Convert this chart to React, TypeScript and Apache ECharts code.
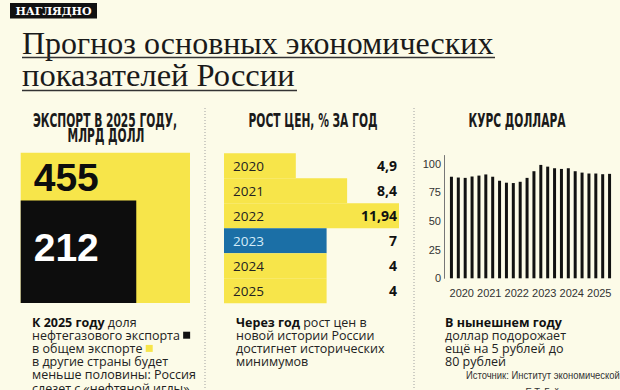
import React, { useEffect, useRef } from "react";
import * as echarts from "echarts";

// ---- data ----
const exportNames = ["Общий экспорт", "Нефтегазовый экспорт"];
const exportValues = [455, 212];

const priceYears = ["2020", "2021", "2022", "2023", "2024", "2025"];
const priceGrowth = [4.9, 8.4, 11.94, 7, 4, 4];
// bar lengths as drawn in the reference (forecast rows share the 2023 length)
const priceBarLength = [4.9, 8.4, 11.94, 7, 7, 7];
const highlightYear = "2023";

const dollarYears = ["2020", "2021", "2022", "2023", "2024", "2025"];
const quarterNames = ["I", "II", "III", "IV"];
const dollarQuarters = dollarYears.flatMap((y) => quarterNames.map((q) => `${q} кв. ${y}`));
const dollarRate = [
  88.5, 87.8, 87.5, 88.7, 89.5, 90.5, 88.5, 85, 83.3, 83, 84.1, 87.5,
  93.3, 98.8, 97.3, 95.9, 95.3, 95.9, 93.3, 92.1, 91.3, 91.3, 90.7, 91,
];

const captionExport = [
  "{b|К 2025 году} доля",
  "нефтегазового экспорта {k| }",
  "в общем экспорте {y| }",
  "в другие страны будет",
  "меньше половины: Россия",
  "слезет с «нефтяной иглы»",
];
const captionPrices = [
  "{b|Через год} рост цен в",
  "новой истории России",
  "достигнет исторических",
  "минимумов",
];
const captionDollar = ["{b|В нынешнем году}", "доллар подорожает", "ещё на 5 рублей до", "80 рублей"];
const sourceLines = ["Источник: Институт экономической", "политики им. Е.Т. Гайдара"];

// ---- styles ----
const BG = "#fcfbe8";
const YELLOW = "#f7e54a";
const BLUE = "#1b6fa6";
const INK = "#1a1a1a";
const COND = "'DejaVu Sans Condensed', 'DejaVu Sans', sans-serif";
const LIB = "'Liberation Sans', Arial, sans-serif";
const SANS = "'Open Sans', 'Noto Sans', sans-serif";
const SERIF = "'Liberation Serif', 'DejaVu Serif', serif";

const squareColors = [YELLOW, "#0d0d0d"];
const squareTextColors = ["#0d0d0d", "#ffffff"];
const squareLabelOffset = [25, 47];

const fmt = (v: number) => String(v).replace(".", ",");

export default function App() {
  const ref = useRef<HTMLDivElement>(null);

  useEffect(() => {
    if (!ref.current) return;
    const chart = echarts.init(ref.current, undefined, { renderer: "svg" });

    const heading = (text: string, x: number, y: number) => ({
      type: "text",
      x,
      y,
      scaleX: 0.625,
      style: {
        text,
        fill: INK,
        fontFamily: COND,
        fontWeight: "bold",
        fontSize: 19,
        align: "center",
        verticalAlign: "middle",
      },
    });

    const LH = 13;
    const captionRich = {
      b: { fontFamily: SANS, fontSize: 12.5, fontWeight: "bold", fill: "#111", lineHeight: LH },
      k: { width: 7, height: 7, backgroundColor: "#111", lineHeight: LH },
      y: { width: 7, height: 7, backgroundColor: YELLOW, lineHeight: LH },
    };

    const caption = (lines: string[], x: number, y0: number) =>
      lines.map((text, i) => ({
        type: "text",
        x,
        y: y0 + i * 13.2,
        style: {
          text,
          fill: "#222",
          fontFamily: SANS,
          fontSize: 12.5,
          lineHeight: LH,
          align: "left",
          verticalAlign: "middle",
          rich: captionRich,
        },
      }));

    const option: any = {
      animation: false,
      backgroundColor: BG,
      grid: [
        { left: 20.7, top: 152.7, width: 169.3, height: 150.3 },
        { left: 224, top: 153.3, width: 175, height: 150 },
        { left: 448, top: 155.5, width: 165, height: 122.8 },
      ],
      xAxis: [
        { gridIndex: 0, type: "value", min: 0, max: Math.sqrt(exportValues[0]), show: false },
        { gridIndex: 1, type: "value", min: 0, max: 11.94, show: false },
        { gridIndex: 2, type: "category", data: dollarQuarters, show: false },
        {
          gridIndex: 2,
          type: "category",
          data: dollarYears,
          position: "bottom",
          axisLine: { show: false },
          axisTick: { show: false },
          axisLabel: { interval: 0, margin: 9, fontSize: 11, color: "#333", fontFamily: LIB },
        },
      ],
      yAxis: [
        { gridIndex: 0, type: "value", min: 0, max: Math.sqrt(exportValues[0]), show: false },
        {
          gridIndex: 1,
          type: "category",
          inverse: true,
          z: 5,
          data: priceYears.map((y) =>
            y === highlightYear ? { value: y, textStyle: { color: "#d4ecf8" } } : y
          ),
          axisLine: { show: false },
          axisTick: { show: false },
          axisLabel: { inside: true, margin: 9, fontSize: 13.5, color: "#222", fontFamily: SANS },
        },
        {
          gridIndex: 1,
          type: "category",
          inverse: true,
          position: "right",
          z: 5,
          data: priceGrowth.map(fmt),
          axisLine: { show: false },
          axisTick: { show: false },
          axisLabel: {
            inside: true,
            margin: 2,
            fontSize: 14,
            fontWeight: "bold",
            color: "#111",
            fontFamily: SANS,
          },
        },
        {
          gridIndex: 2,
          type: "value",
          min: 0,
          max: 107,
          interval: 25,
          offset: 4,
          axisLine: { show: true, lineStyle: { color: "#777", width: 1 } },
          axisTick: { show: false },
          splitLine: { show: false },
          axisLabel: { margin: 3, fontSize: 11, color: "#333", fontFamily: LIB, showMaxLabel: false },
        },
      ],
      series: [
        {
          type: "custom",
          name: "Экспорт",
          xAxisIndex: 0,
          yAxisIndex: 0,
          data: exportValues.map((v, i) => ({ name: exportNames[i], value: [v, v] })),
          renderItem: (params: any, api: any) => {
            const v = api.value(0);
            const side = Math.sqrt(v);
            const p0 = api.coord([0, 0]);
            const p1 = api.coord([side, side]);
            const i = params.dataIndex;
            return {
              type: "group",
              children: [
                {
                  type: "rect",
                  shape: { x: p0[0], y: p1[1], width: p1[0] - p0[0], height: p0[1] - p1[1] },
                  style: { fill: squareColors[i] },
                },
                {
                  type: "text",
                  x: p0[0] + 13,
                  y: p1[1] + squareLabelOffset[i],
                  style: {
                    text: String(v),
                    fill: squareTextColors[i],
                    fontFamily: LIB,
                    fontWeight: "bold",
                    fontSize: 39,
                    align: "left",
                    verticalAlign: "middle",
                  },
                },
              ],
            };
          },
        },
        {
          type: "bar",
          name: "Рост цен",
          xAxisIndex: 1,
          yAxisIndex: 1,
          barCategoryGap: "0%",
          z: 2,
          data: priceBarLength.map((v, i) => ({
            value: v,
            itemStyle: { color: priceYears[i] === highlightYear ? BLUE : YELLOW },
          })),
        },
        {
          type: "bar",
          name: "Курс доллара",
          xAxisIndex: 2,
          yAxisIndex: 3,
          barWidth: 3,
          itemStyle: { color: "#121212" },
          data: dollarRate,
        },
      ],
      graphic: [
        { type: "rect", shape: { x: 10, y: 3, width: 87, height: 15.5 }, style: { fill: "#111" } },
        {
          type: "text",
          x: 53.5,
          y: 11,
          style: {
            text: "НАГЛЯДНО",
            fill: "#fff",
            fontFamily: "'DejaVu Serif', serif",
            fontWeight: "bold",
            fontSize: 11,
            align: "center",
            verticalAlign: "middle",
          },
        },
        {
          type: "text",
          x: 22,
          y: 42.5,
          style: {
            text: "Прогноз основных экономических",
            fill: INK,
            fontFamily: SERIF,
            fontSize: 32,
            align: "left",
            verticalAlign: "middle",
          },
        },
        {
          type: "text",
          x: 22,
          y: 74.5,
          style: {
            text: "показателей России",
            fill: INK,
            fontFamily: SERIF,
            fontSize: 32.5,
            align: "left",
            verticalAlign: "middle",
          },
        },
        { type: "line", shape: { x1: 22, y1: 57.5, x2: 495, y2: 57.5 }, style: { stroke: "#333", lineWidth: 1.5 } },
        { type: "line", shape: { x1: 22, y1: 90.5, x2: 297, y2: 90.5 }, style: { stroke: "#333", lineWidth: 1.5 } },
        {
          type: "line",
          shape: { x1: 205, y1: 108, x2: 205, y2: 390 },
          style: { stroke: "#a0a0a0", lineWidth: 1, lineDash: [1, 2] },
        },
        {
          type: "line",
          shape: { x1: 414, y1: 108, x2: 414, y2: 390 },
          style: { stroke: "#a0a0a0", lineWidth: 1, lineDash: [1, 2] },
        },
        heading("ЭКСПОРТ В 2025 ГОДУ,", 105, 120),
        heading("МЛРД ДОЛЛ", 106, 135),
        heading("РОСТ ЦЕН, % ЗА ГОД", 313, 120),
        heading("КУРС ДОЛЛАРА", 517, 120),
        ...caption(captionExport, 32, 322),
        ...caption(captionPrices, 236, 322),
        ...caption(captionDollar, 445, 322),
        ...sourceLines.map((text, i) => ({
          type: "text",
          x: 466,
          y: 375 + i * 17,
          scaleX: 0.82,
          style: {
            text,
            fill: "#333",
            fontFamily: LIB,
            fontSize: 11.5,
            lineHeight: 13,
            align: "left",
            verticalAlign: "middle",
          },
        })),
      ],
    };

    chart.setOption(option);
    return () => chart.dispose();
  }, []);

  return (
    <div
      ref={ref}
      style={{ position: "fixed", left: 0, top: 0, width: 620, height: 390, background: BG }}
    />
  );
}
